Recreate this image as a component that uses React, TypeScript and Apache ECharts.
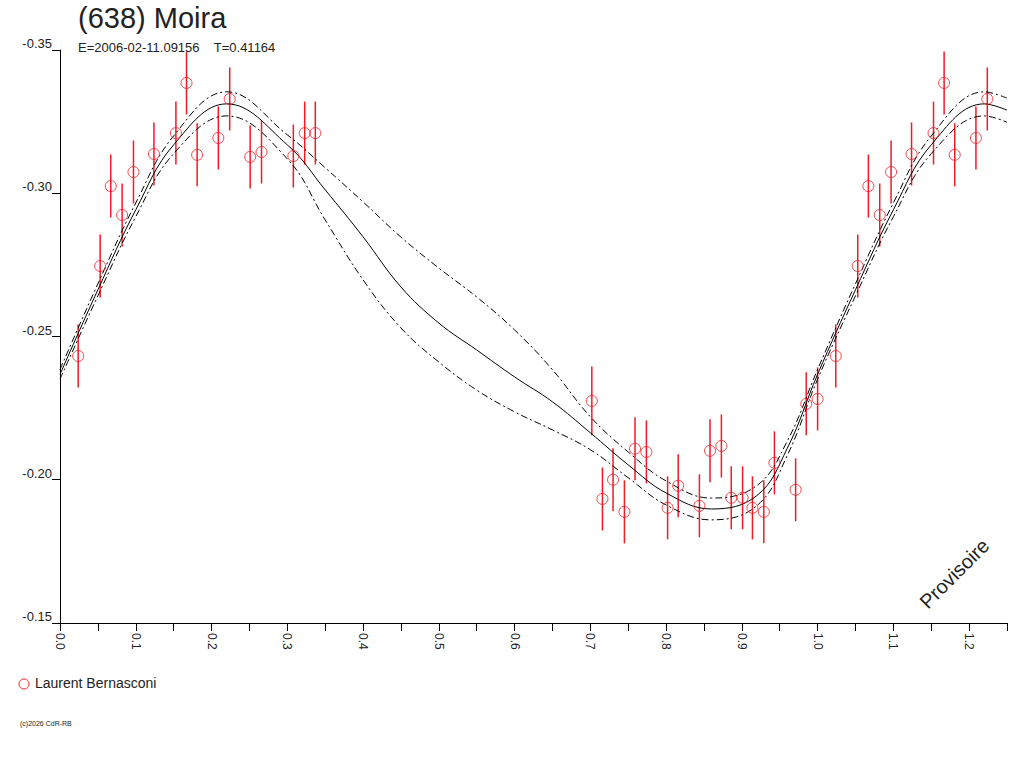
import React, { useEffect, useRef } from "react";
import * as echarts from "echarts";

const obsPhase = [0.024, 0.053, 0.067, 0.082, 0.097, 0.124, 0.153, 0.167, 0.181, 0.209, 0.224, 0.251, 0.266, 0.308, 0.323, 0.337, 0.702, 0.716, 0.730, 0.745, 0.759, 0.774, 0.802, 0.816, 0.844, 0.858, 0.873, 0.886, 0.901, 0.914, 0.929, 0.943, 0.971, 0.985, 1.0];
const obsMag = [-0.2432, -0.2746, -0.3025, -0.2924, -0.3074, -0.3137, -0.321, -0.3385, -0.3134, -0.3193, -0.3329, -0.3127, -0.3144, -0.313, -0.321, -0.321, -0.2275, -0.1933, -0.2, -0.1888, -0.2108, -0.2097, -0.1902, -0.1979, -0.1909, -0.2101, -0.2118, -0.1937, -0.1937, -0.1902, -0.1888, -0.2059, -0.1965, -0.2265, -0.2282];
const obsErr = [0.011, 0.011, 0.011, 0.011, 0.011, 0.011, 0.011, 0.011, 0.011, 0.011, 0.011, 0.011, 0.011, 0.011, 0.011, 0.011, 0.012, 0.011, 0.011, 0.011, 0.011, 0.011, 0.011, 0.011, 0.011, 0.011, 0.011, 0.011, 0.011, 0.011, 0.011, 0.011, 0.011, 0.011, 0.011];

const fitPhase = [0, 0.05, 0.1, 0.15, 0.22, 0.3, 0.35, 0.4, 0.45, 0.5, 0.55, 0.6, 0.65, 0.7, 0.75, 0.8, 0.86, 0.92, 0.96, 1.0, 1.05, 1.1, 1.15, 1.22, 1.25];
const fitMag = [-0.2368, -0.2663, -0.2942, -0.3169, -0.3312, -0.3169, -0.3012, -0.2848, -0.2673, -0.2547, -0.2453, -0.2359, -0.2272, -0.2164, -0.2052, -0.1954, -0.1898, -0.1945, -0.2110, -0.2368, -0.2663, -0.2942, -0.3169, -0.3312, -0.3290];
const upOff = [0.0017, 0.0021, 0.0024, 0.0031, 0.0042, 0.0035, 0.0077, 0.0122, 0.0174, 0.0192, 0.0185, 0.0164, 0.0112, 0.0056, 0.0045, 0.0042, 0.0038, 0.0035, 0.0025, 0.0017, 0.0021, 0.0024, 0.0031, 0.0042, 0.0042];
const lowOff = [0.0017, 0.0021, 0.0024, 0.0031, 0.0042, 0.0049, 0.0105, 0.015, 0.0143, 0.0136, 0.014, 0.0122, 0.0098, 0.0059, 0.0045, 0.0042, 0.0038, 0.0035, 0.0025, 0.0017, 0.0021, 0.0024, 0.0031, 0.0042, 0.0042];

const FONT = "Liberation Sans, Arial, sans-serif";

export default function App() {
  const ref = useRef<HTMLDivElement>(null);
  useEffect(() => {
    const chart = echarts.init(ref.current!, null, { renderer: "svg" });
    const pts: number[][] = [];
    obsPhase.forEach((p, i) => {
      pts.push([p, obsMag[i], obsErr[i]]);
      if (p < 0.25) pts.push([p + 1, obsMag[i], obsErr[i]]);
    });
    const fit = fitPhase.map((p, i) => [p, fitMag[i]]);
    const up = fitPhase.map((p, i) => [p, fitMag[i] - upOff[i]]);
    const lo = fitPhase.map((p, i) => [p, fitMag[i] + lowOff[i]]);
    const dash = { color: "#000", width: 1, type: [7, 3, 2, 3] as any };
    chart.setOption({
      animation: false,
      backgroundColor: "#fff",
      grid: { left: 60, right: 17, top: 50, bottom: 145 },
      xAxis: {
        type: "value", min: 0, max: 1.25, interval: 0.1,
        axisLine: { lineStyle: { color: "#000" } },
        axisTick: { show: true, length: 8, lineStyle: { color: "#000" } },
        minorTick: { show: true, splitNumber: 2, length: 8, lineStyle: { color: "#000" } },
        splitLine: { show: false },
        axisLabel: { rotate: -90, color: "#222", fontFamily: FONT, fontSize: 12, margin: 10, showMaxLabel: false, formatter: (v: number) => v.toFixed(1) },
      },
      yAxis: {
        type: "value", min: -0.35, max: -0.15, interval: 0.05, inverse: true,
        axisLine: { show: true, lineStyle: { color: "#000" } },
        axisTick: { show: true, length: 8, lineStyle: { color: "#000" } },
        splitLine: { show: false },
        axisLabel: { color: "#222", fontFamily: FONT, fontSize: 13, margin: 8, verticalAlign: "bottom", formatter: (v: number) => v.toFixed(2) },
      },
      series: [
        { type: "line", data: fit, smooth: 0.4, symbol: "none", lineStyle: { color: "#000", width: 1 } },
        { type: "line", data: up, smooth: 0.4, symbol: "none", lineStyle: dash },
        { type: "line", data: lo, smooth: 0.4, symbol: "none", lineStyle: dash },
        {
          type: "custom", data: pts, z: 3,
          renderItem: (params: any, api: any) => {
            const x = api.value(0), m = api.value(1), e = api.value(2);
            const a = api.coord([x, m - e]);
            const b = api.coord([x, m + e]);
            return { type: "line", shape: { x1: a[0], y1: a[1], x2: b[0], y2: b[1] }, style: { stroke: "#ee1c24", lineWidth: 1.5 } };
          },
        },
        { type: "scatter", z: 4, data: pts.map((d) => [d[0], d[1]]), symbol: "circle", symbolSize: 11, itemStyle: { color: "rgba(255,255,255,0)", borderColor: "#ee1c24", borderWidth: 1 } },
      ],
      graphic: [
        { type: "text", left: 78, top: 3, style: { text: "(638) Moira", font: `29px ${FONT}`, fill: "#222" } },
        { type: "text", left: 78, top: 41, style: { text: "E=2006-02-11.09156    T=0.41164", font: `13px ${FONT}`, fill: "#222" } },
        { type: "text", x: 930, y: 612, rotation: Math.PI / 4, style: { text: "Provisoire", font: `20px ${FONT}`, fill: "#222", textVerticalAlign: "bottom" } },
        { type: "circle", shape: { cx: 24, cy: 684, r: 5 }, style: { fill: "#fff", stroke: "#ee1c24", lineWidth: 1 } },
        { type: "text", left: 35, top: 676, style: { text: "Laurent Bernasconi", font: `14px ${FONT}`, fill: "#222" } },
        { type: "text", left: 20, top: 720, style: { text: "(c)2026 CdR-RB", font: `7px ${FONT}`, fill: "#222" } },
      ],
    });
    return () => chart.dispose();
  }, []);
  return <div ref={ref} style={{ position: "fixed", left: 0, top: 0, width: 1024, height: 768 }} />;
}
